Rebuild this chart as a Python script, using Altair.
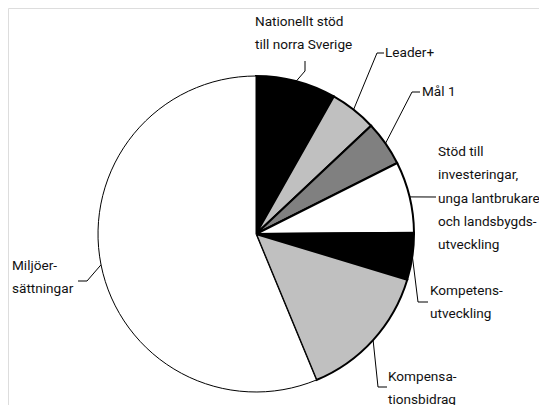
import math
import altair as alt
import pandas as pd

# ---------------- data ----------------
categories = [
    "Nationellt stöd till norra Sverige",
    "Leader+",
    "Mål 1",
    "Stöd till investeringar, unga lantbrukare och landsbygdsutveckling",
    "Kompetensutveckling",
    "Kompensationsbidrag",
    "Miljöersättningar",
]
shares = [8.2, 4.8, 4.6, 7.3, 4.8, 14.1, 56.3]
fills = ["#000000", "#c0c0c0", "#808080", "#ffffff", "#000000", "#c0c0c0", "#ffffff"]
label_lines = [
    ["Nationellt stöd", "till norra Sverige"],
    ["Leader+"],
    ["Mål 1"],
    ["Stöd till", "investeringar,", "unga lantbrukare", "och landsbygds-", "utveckling"],
    ["Kompetens-", "utveckling"],
    ["Kompensa-", "tionsbidrag"],
    ["Miljöer-", "sättningar"],
]

# ---------------- layout (page pixel coordinates) ----------------
M = 8
W, H = 531, 397
CX, CY, R = 256, 234, 158
stroke_widths = [2, 2, 2, 2, 2, 2, 1]
label_pos = [(255, 22), (385, 53), (422, 92), (438, 152), (430, 291), (388, 377), (12, 266)]
LH = 23.3
leader_tail = [
    [(305, 71), (305, 61)],
    [(377, 53), (384, 53)],
    [(412, 92), (420, 92)],
    [(436, 197)],
    [(418, 302), (428, 302)],
    [(378, 387), (387, 387)],
    [(87, 281), (78, 281)],
]

FONT = "Roboto, sans-serif"
FS = 13.6

pie_df = pd.DataFrame({
    "cat": categories,
    "share": shares,
    "fill": fills,
    "sw": stroke_widths,
    "idx": list(range(len(categories))),
})

total = sum(shares)
rows = []
cum = 0.0
for i, s in enumerate(shares):
    mid = (cum + s / 2) / total * 2 * math.pi
    cum += s
    sx = CX + R * math.sin(mid)
    sy = CY - R * math.cos(mid)
    pts = [(sx, sy)] + leader_tail[i]
    for k, (px, py) in enumerate(pts):
        rows.append({"cat": categories[i], "k": k, "x": px, "y": py})
lead_df = pd.DataFrame(rows)

trows = []
for i, lines in enumerate(label_lines):
    x0, y0 = label_pos[i]
    for j, t in enumerate(lines):
        trows.append({"t": t, "x": x0, "y": y0 + j * LH})
text_df = pd.DataFrame(trows)

xs = alt.Scale(domain=[M, M + W])
ys = alt.Scale(domain=[M + H, M])

pie = alt.Chart(pie_df).mark_arc(radius=R, stroke="black").encode(
    theta=alt.Theta("share:Q", stack=True),
    order=alt.Order("idx:Q"),
    fill=alt.Fill("fill:N", scale=None),
    strokeWidth=alt.StrokeWidth("sw:Q", scale=None),
    x=alt.value(CX - M),
    y=alt.value(CY - M),
)

leaders = alt.Chart(lead_df).mark_line(color="black", strokeWidth=1).encode(
    x=alt.X("x:Q", scale=xs, axis=None),
    y=alt.Y("y:Q", scale=ys, axis=None),
    detail="cat:N",
    order="k:Q",
)

labels = alt.Chart(text_df).mark_text(
    align="left", baseline="middle", font=FONT, fontSize=FS, color="#111111"
).encode(
    x=alt.X("x:Q", scale=xs, axis=None),
    y=alt.Y("y:Q", scale=ys, axis=None),
    text="t:N",
)

chart = alt.layer(pie, leaders, labels).properties(
    width=W, height=H, padding=0, autosize=alt.AutoSizeParams(type="none")
).configure_view(stroke=None).configure(background="white")

chart.save("out.html", embed_options={"renderer": "svg", "actions": False})
